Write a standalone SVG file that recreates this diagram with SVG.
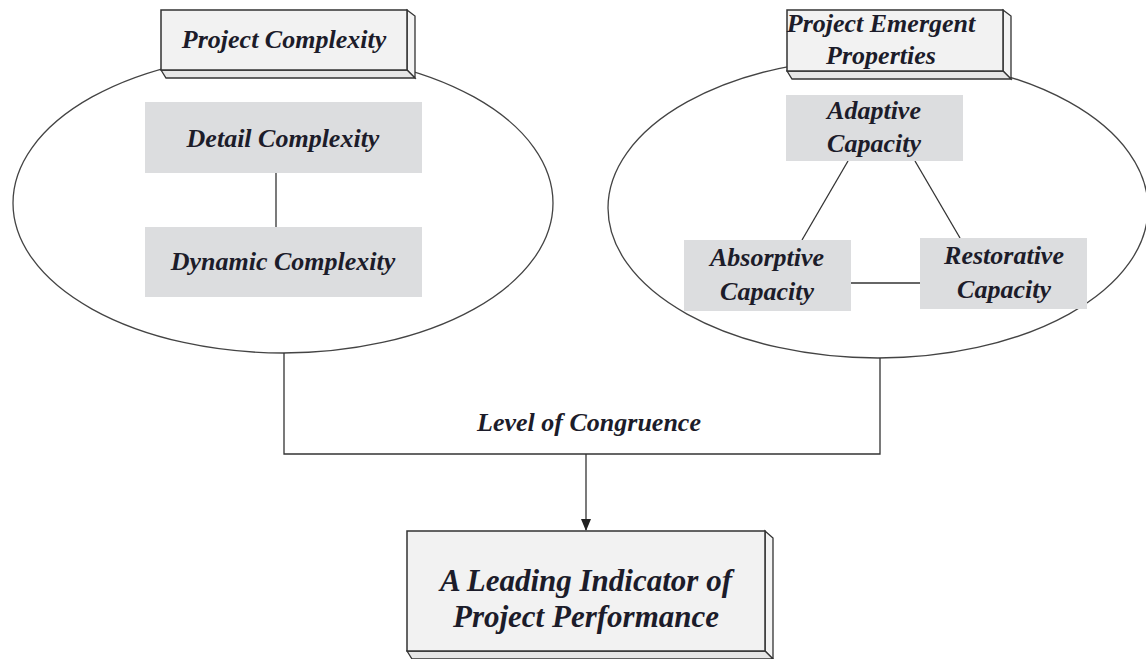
<svg xmlns="http://www.w3.org/2000/svg" width="1146" height="659" viewBox="0 0 1146 659">
<defs>
<style>
text{font-family:'Liberation Serif','Times New Roman',Times,serif;font-weight:700;font-style:italic;fill:#1c1c2a;text-anchor:middle;font-size:26px}
.big{font-size:31px}
.ell{fill:none;stroke:#444;stroke-width:1.3}
.gbox{fill:#dcdddf;stroke:none}
.front{fill:#f2f2f2;stroke:#333;stroke-width:1.5}
.side{fill:#f4f4f4;stroke:#333;stroke-width:1.3}
.bot{fill:#e6e6e6;stroke:#333;stroke-width:1.3}
.ln{stroke:#333;stroke-width:1.3;fill:none}
</style>
<marker id="arr" markerWidth="12" markerHeight="12" refX="11" refY="6" orient="auto" markerUnits="userSpaceOnUse">
<path d="M0,1 L12,6 L0,11 Z" fill="#222"/>
</marker>
</defs>
<rect width="1146" height="659" fill="#fff"/>

<g id="complexity-ellipse">
<ellipse class="ell" cx="283" cy="203" rx="270" ry="150"/>
</g>
<g id="emergent-ellipse">
<ellipse class="ell" cx="878" cy="208" rx="270" ry="150"/>
</g>

<g id="connectors">
<line class="ln" x1="276" y1="173" x2="276" y2="227"/>
<line class="ln" x1="848" y1="161" x2="802" y2="240"/>
<line class="ln" x1="915" y1="161" x2="960" y2="238"/>
<line class="ln" x1="851" y1="283" x2="920" y2="283"/>
<polyline class="ln" points="284,353 284,454 880,454 880,358"/>
<line class="ln" x1="586" y1="454" x2="586" y2="530" marker-end="url(#arr)"/>
</g>

<g id="project-complexity">
<polygon class="side" points="407,10 415,16 415,78 407,70"/>
<polygon class="bot" points="161,70 407,70 415,78 166,78"/>
<rect class="front" x="161" y="10" width="246" height="60"/>
<text x="284" y="48">Project Complexity</text>
</g>

<g id="detail-complexity">
<rect class="gbox" x="145" y="102" width="277" height="71"/>
<text x="283" y="147">Detail Complexity</text>
</g>

<g id="dynamic-complexity">
<rect class="gbox" x="145" y="227" width="277" height="70"/>
<text x="283" y="270">Dynamic Complexity</text>
</g>

<g id="project-emergent-properties">
<polygon class="side" points="1003,10 1011,16 1011,79 1003,71"/>
<polygon class="bot" points="787,71 1003,71 1011,79 792,79"/>
<rect class="front" x="787" y="10" width="216" height="61"/>
<text x="881" y="32">Project Emergent</text>
<text x="881" y="64">Properties</text>
</g>

<g id="adaptive-capacity">
<rect class="gbox" x="786" y="95" width="177" height="66"/>
<text x="874" y="119">Adaptive</text>
<text x="874" y="152">Capacity</text>
</g>

<g id="absorptive-capacity">
<rect class="gbox" x="684" y="240" width="167" height="71"/>
<text x="767" y="266">Absorptive</text>
<text x="767" y="300">Capacity</text>
</g>

<g id="restorative-capacity">
<rect class="gbox" x="920" y="238" width="167" height="71"/>
<text x="1004" y="264">Restorative</text>
<text x="1004" y="298">Capacity</text>
</g>

<g id="congruence-label">
<text x="589" y="431">Level of Congruence</text>
</g>

<g id="leading-indicator">
<polygon class="side" points="765,531 773,538 773,659 765,651"/>
<polygon class="bot" points="407,651 765,651 773,659 412,659"/>
<rect class="front" x="407" y="531" width="358" height="120"/>
<text class="big" x="586" y="591">A Leading Indicator of</text>
<text class="big" x="586" y="627">Project Performance</text>
</g>
</svg>
